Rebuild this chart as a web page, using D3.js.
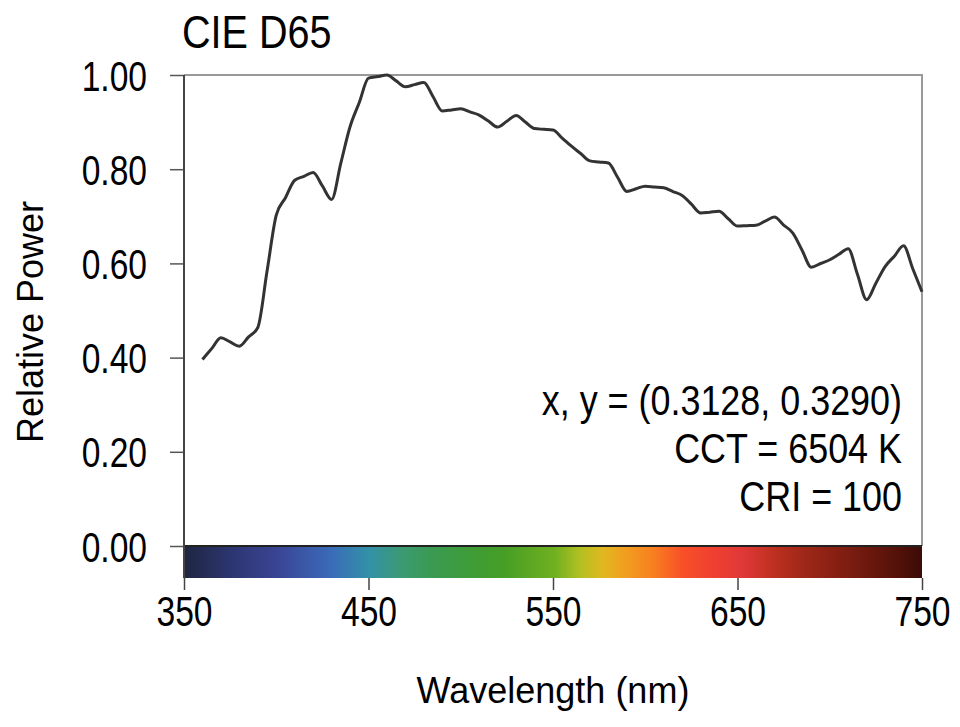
<!DOCTYPE html>
<html>
<head>
<meta charset="utf-8">
<script src="https://cdn.jsdelivr.net/npm/d3@7"></script>
<style>
  body { margin: 0; background: #fff; }
  text { font-family: "Liberation Sans", Arial, sans-serif; }
</style>
</head>
<body>
<svg id="chart" width="960" height="727"></svg>
<script>
// CIE D65, relative spectral power (normalised to 460 nm)
const wavelengths = [360, 365, 370, 375, 380, 385, 390, 395, 400, 405, 410, 415, 420, 425, 430, 435,
  440, 445, 450, 455, 460, 465, 470, 475, 480, 485, 490, 495, 500, 505, 510, 515, 520, 525, 530, 535,
  540, 545, 550, 555, 560, 565, 570, 575, 580, 585, 590, 595, 600, 605, 610, 615, 620, 625, 630, 635,
  640, 645, 650, 655, 660, 665, 670, 675, 680, 685, 690, 695, 700, 705, 710, 715, 720, 725, 730, 735,
  740, 745, 750];
const power = [0.3959, 0.4190, 0.4421, 0.4332, 0.4242, 0.4440, 0.4639, 0.5831, 0.7024, 0.7395, 0.7765,
  0.7848, 0.7931, 0.7644, 0.7358, 0.8129, 0.8901, 0.9416, 0.9932, 0.9966, 1.0000, 0.9875, 0.9750,
  0.9795, 0.9840, 0.9538, 0.9236, 0.9259, 0.9282, 0.9216, 0.9150, 0.9022, 0.8895, 0.9018, 0.9141,
  0.9001, 0.8862, 0.8847, 0.8832, 0.8660, 0.8488, 0.8333, 0.8177, 0.8154, 0.8131, 0.7829, 0.7528,
  0.7584, 0.7640, 0.7622, 0.7605, 0.7525, 0.7444, 0.7257, 0.7070, 0.7087, 0.7105, 0.6949, 0.6793,
  0.6801, 0.6809, 0.6896, 0.6984, 0.6814, 0.6645, 0.6281, 0.5918, 0.5998, 0.6078, 0.6195, 0.6311,
  0.5770, 0.5229, 0.5580, 0.5932, 0.6153, 0.6373, 0.5886, 0.5398];

const xTicks = [350, 450, 550, 650, 750];
const yTicks = [0, 0.2, 0.4, 0.6, 0.8, 1.0];
const infoLines = ["x, y = (0.3128, 0.3290)", "CCT = 6504 K", "CRI = 100"];

// colour bar under the plot
const barNm = [350, 375, 402, 429, 450, 469, 485, 507, 523, 551, 564, 577, 588, 604, 620, 636, 653, 669, 685, 712, 739, 750];
const barColors = ["#1f2540", "#2c3570", "#3a4696", "#3a6ab8", "#3291a8", "#3c9a70", "#3a9a50", "#3f9c35",
  "#459e25", "#70b020", "#b0c020", "#e0b820", "#f0a020", "#f88020", "#f85028", "#f04030", "#e03838",
  "#c03020", "#a02818", "#7a1c10", "#501008", "#3a0c08"];

const margin = {top: 75, right: 38, left: 184};
const plotBottom = 546;
const barH = 32;
const squeeze = 0.8; // labels in the picture are condensed

const svg = d3.select("#chart");

const x = d3.scaleLinear().domain([350, 750]).range([margin.left, 960 - margin.right]);
const y = d3.scaleLinear().domain([0, 1]).range([plotBottom, margin.top]);

// gradient
const grad = svg.append("defs").append("linearGradient")
  .attr("id", "spectrum")
  .attr("x1", "0%").attr("x2", "100%");
grad.selectAll("stop")
  .data(barNm)
  .enter().append("stop")
  .attr("offset", d => ((x(d) - x(350)) / (x(750) - x(350)) * 100) + "%")
  .attr("stop-color", (d, i) => barColors[i]);

svg.append("rect")
  .attr("x", x(350))
  .attr("y", plotBottom)
  .attr("width", x(750) - x(350))
  .attr("height", barH)
  .style("fill", "url(#spectrum)");

// frame: grey top + right
svg.append("path")
  .attr("d", `M${x(350)},${y(1)}H${x(750)}V${plotBottom}`)
  .style("fill", "none")
  .style("stroke", "#999")
  .style("stroke-width", 2);

svg.append("line")
  .attr("x1", x(350)).attr("x2", x(750))
  .attr("y1", plotBottom).attr("y2", plotBottom)
  .style("stroke", "#222")
  .style("stroke-width", 2);

// y axis
const yAxis = svg.append("g")
  .attr("transform", `translate(${margin.left},0)`)
  .call(d3.axisLeft(y).tickValues(yTicks).tickFormat(d3.format(".2f")).tickSize(14).tickPadding(23));
yAxis.select(".domain").remove();
yAxis.selectAll(".tick line").style("stroke", "#555").style("stroke-width", 1.5);
yAxis.selectAll(".tick text")
  .attr("x", -37 / squeeze)
  .attr("transform", `scale(${squeeze},1)`)
  .attr("dy", "0.36em")
  .style("font-size", "42px")
  .style("fill", "#000");

svg.append("line")
  .attr("x1", margin.left).attr("x2", margin.left)
  .attr("y1", margin.top).attr("y2", plotBottom + barH)
  .style("stroke", "#444")
  .style("stroke-width", 2);

// x axis under the colour bar
const xAxis = svg.append("g")
  .attr("transform", `translate(0,${plotBottom + barH})`)
  .call(d3.axisBottom(x).tickValues(xTicks).tickFormat(d3.format("d")).tickSize(12).tickPadding(6));
xAxis.select(".domain").remove();
xAxis.selectAll(".tick line").style("stroke", "#444").style("stroke-width", 1.5);
xAxis.selectAll(".tick text")
  .attr("transform", `scale(${squeeze},1)`)
  .style("font-size", "42px")
  .style("fill", "#000");

// spectrum line
const line = d3.line()
  .x((d, i) => x(wavelengths[i]))
  .y(d => y(d))
  .curve(d3.curveMonotoneX);

svg.append("path")
  .datum(power)
  .attr("d", line)
  .style("fill", "none")
  .style("stroke", "#333")
  .style("stroke-width", 3)
  .style("stroke-linejoin", "round");

// titles
const titleSq = 0.86;
svg.append("text")
  .attr("transform", `scale(${titleSq},1)`)
  .attr("x", 182 / titleSq)
  .attr("y", 48)
  .style("font-size", "46px")
  .text("CIE D65");

svg.append("text")
  .attr("x", 553)
  .attr("y", 703)
  .attr("text-anchor", "middle")
  .style("font-size", "36px")
  .text("Wavelength (nm)");

svg.append("text")
  .attr("transform", "rotate(-90)")
  .attr("x", -322)
  .attr("y", 43)
  .attr("text-anchor", "middle")
  .style("font-size", "36px")
  .text("Relative Power");

const infoSq = 0.855;
svg.append("g")
  .attr("transform", `scale(${infoSq},1)`)
  .selectAll("text")
  .data(infoLines)
  .enter().append("text")
  .attr("x", 902 / infoSq)
  .attr("y", (d, i) => 415 + i * 48)
  .attr("text-anchor", "end")
  .style("font-size", "42px")
  .text(d => d);
</script>
</body>
</html>
